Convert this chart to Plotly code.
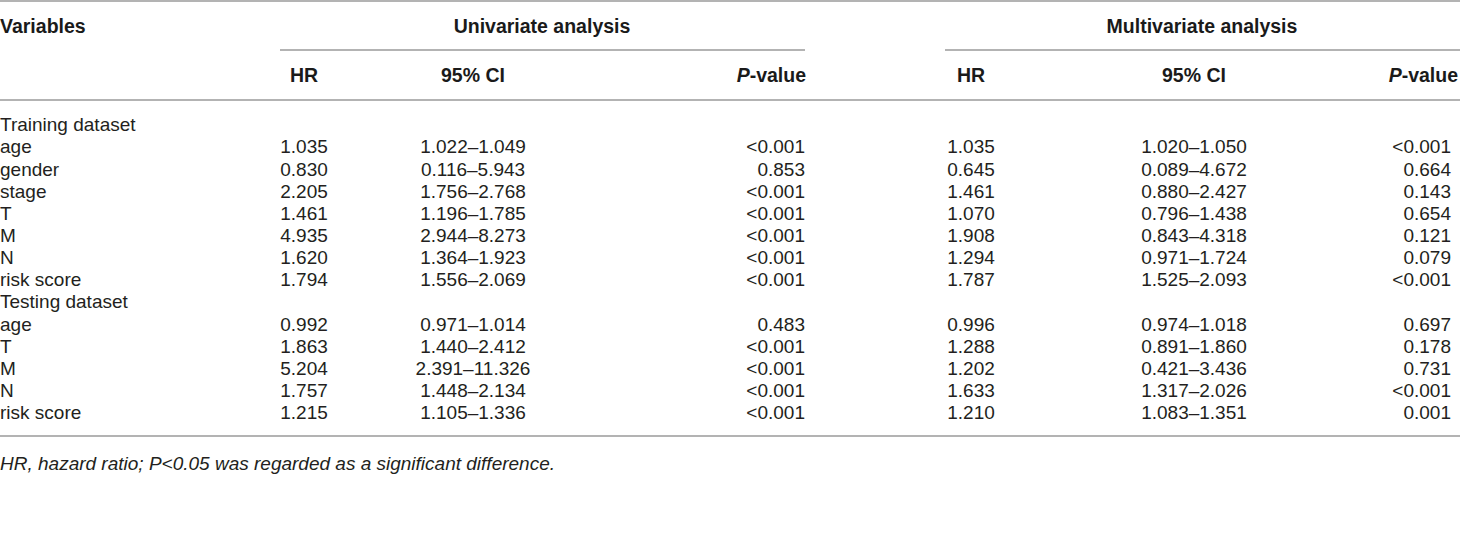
import plotly.graph_objects as go

# table contents
groups = ["Training dataset", "Testing dataset"]
train_vars = ["age", "gender", "stage", "T", "M", "N", "risk score"]
test_vars = ["age", "T", "M", "N", "risk score"]

uni_hr = [1.035, 0.830, 2.205, 1.461, 4.935, 1.620, 1.794,
          0.992, 1.863, 5.204, 1.757, 1.215]
uni_lo = [1.022, 0.116, 1.756, 1.196, 2.944, 1.364, 1.556,
          0.971, 1.440, 2.391, 1.448, 1.105]
uni_hi = [1.049, 5.943, 2.768, 1.785, 8.273, 1.923, 2.069,
          1.014, 2.412, 11.326, 2.134, 1.336]
uni_p = ["<0.001", "0.853", "<0.001", "<0.001", "<0.001", "<0.001", "<0.001",
         "0.483", "<0.001", "<0.001", "<0.001", "<0.001"]

multi_hr = [1.035, 0.645, 1.461, 1.070, 1.908, 1.294, 1.787,
            0.996, 1.288, 1.202, 1.633, 1.210]
multi_lo = [1.020, 0.089, 0.880, 0.796, 0.843, 0.971, 1.525,
            0.974, 0.891, 0.421, 1.317, 1.083]
multi_hi = [1.050, 4.672, 2.427, 1.438, 4.318, 1.724, 2.093,
            1.018, 1.860, 3.436, 2.026, 1.351]
multi_p = ["<0.001", "0.664", "0.143", "0.654", "0.121", "0.079", "<0.001",
           "0.697", "0.178", "0.731", "<0.001", "0.001"]

footnote = "HR, hazard ratio; P<0.05 was regarded as a significant difference."

W, H = 1460, 537
FONT = "Liberation Sans, Arial, Helvetica, sans-serif"
TXT = "#231f20"
LINE = "#9a9a9a"
FS = 19

# row layout: group label rows plus variable rows
labels = [groups[0]] + train_vars + [groups[1]] + test_vars
data_idx = [None] + list(range(7)) + [None] + list(range(7, 12))
row_y0, row_dy = 126.5, 22.15
row_y = [row_y0 + i * row_dy for i in range(len(labels))]


def esc(s):
    return s.replace("<", "&lt;")


def col(vals):
    out = []
    for k in data_idx:
        out.append("" if k is None else vals[k])
    return out


fmt = lambda v: f"{v:.3f}"
uni_hr_s = [fmt(v) for v in uni_hr]
uni_ci_s = [f"{fmt(a)}\u2013{fmt(b)}" for a, b in zip(uni_lo, uni_hi)]
multi_hr_s = [fmt(v) for v in multi_hr]
multi_ci_s = [f"{fmt(a)}\u2013{fmt(b)}" for a, b in zip(multi_lo, multi_hi)]

# (x, textposition, texts)
columns = [
    (0, "middle right", labels),
    (304, "middle center", col(uni_hr_s)),
    (473, "middle center", col(uni_ci_s)),
    (805, "middle left", [esc(t) for t in col(uni_p)]),
    (971, "middle center", col(multi_hr_s)),
    (1194, "middle center", col(multi_ci_s)),
    (1451, "middle left", [esc(t) for t in col(multi_p)]),
]

fig = go.Figure()

for x, pos, texts in columns:
    fig.add_trace(go.Scatter(
        x=[x] * len(texts), y=row_y, mode="text", text=texts,
        textposition=pos, textfont=dict(family=FONT, size=FS, color=TXT),
        hoverinfo="skip", showlegend=False,
    ))

# header rows
hdr_font = dict(family=FONT, size=19.5, color="#1a1a1a")
top_hdr = [(0, "middle right", "<b>Variables</b>"),
           (542, "middle center", "<b>Univariate analysis</b>"),
           (1202, "middle center", "<b>Multivariate analysis</b>")]
sub_hdr = [(304, "middle center", "<b>HR</b>"),
           (473, "middle center", "<b>95% CI</b>"),
           (806, "middle left", "<b><i>P</i>-value</b>"),
           (971, "middle center", "<b>HR</b>"),
           (1194, "middle center", "<b>95% CI</b>"),
           (1458, "middle left", "<b><i>P</i>-value</b>")]
for y, hdr in [(28, top_hdr), (77, sub_hdr)]:
    for x, pos, t in hdr:
        fig.add_trace(go.Scatter(
            x=[x], y=[y], mode="text", text=[t], textposition=pos,
            textfont=hdr_font, hoverinfo="skip", showlegend=False,
        ))

fig.add_trace(go.Scatter(
    x=[0], y=[465.5], mode="text", text=["<i>" + esc(footnote) + "</i>"],
    textposition="middle right",
    textfont=dict(family=FONT, size=FS, color=TXT),
    hoverinfo="skip", showlegend=False,
))

# rules
rules = [(0, W, 1), (280, 805, 50), (945, W, 50), (0, W, 100), (0, W, 436)]
for x0, x1, y in rules:
    fig.add_shape(type="line", x0=x0, x1=x1, y0=y, y1=y,
                  line=dict(color=LINE, width=1.5), layer="below")

fig.update_layout(
    width=W, height=H,
    margin=dict(l=0, r=0, t=0, b=0),
    paper_bgcolor="white", plot_bgcolor="white",
    xaxis=dict(range=[0, W], visible=False, fixedrange=True),
    yaxis=dict(range=[H, 0], visible=False, fixedrange=True),
)

fig.write_html("out.html", config={"displayModeBar": False},
               post_script="document.body.style.margin='0';")
